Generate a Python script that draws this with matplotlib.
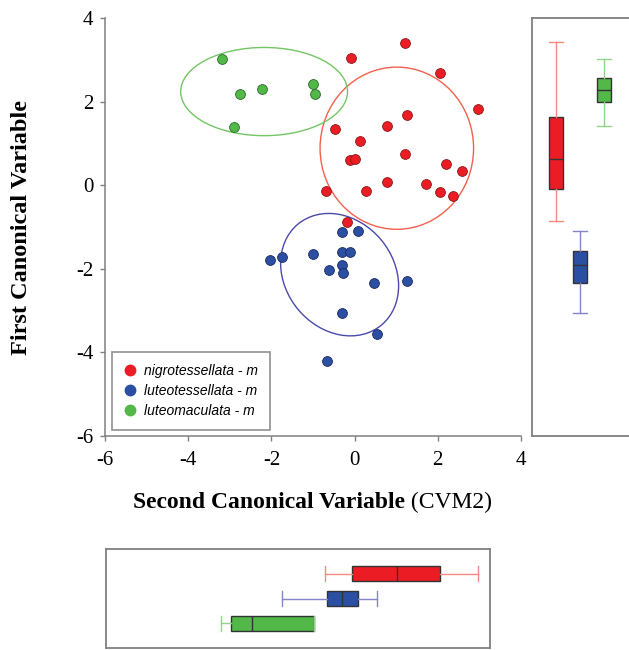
import matplotlib
matplotlib.use("Agg")
import matplotlib.pyplot as plt
from matplotlib.patches import Ellipse
from matplotlib.lines import Line2D

plt.rcParams["axes.unicode_minus"] = False

# ---------------- data ----------------
red_x = [1.21, -0.08, 2.05, 2.96, 1.27, 0.78, -0.46, 0.14, -0.10, 0.01, 1.22, 2.20,
         2.57, 0.79, 1.72, -0.69, 0.27, 2.06, 2.36, -0.19]
red_y = [3.40, 3.05, 2.69, 1.83, 1.69, 1.42, 1.34, 1.05, 0.60, 0.62, 0.74, 0.50,
         0.35, 0.08, 0.03, -0.14, -0.15, -0.16, -0.27, -0.88]
blue_x = [-0.30, 0.07, -2.03, -1.745, -1.01, -0.30, -0.11, -0.30, -0.61, -0.29,
          0.47, 1.265, -0.30, 0.53, -0.66]
blue_y = [-1.13, -1.09, -1.78, -1.72, -1.65, -1.60, -1.60, -1.91, -2.03, -2.11,
          -2.33, -2.28, -3.05, -3.56, -4.21]
green_x = [-3.19, -2.755, -2.22, -0.99, -0.95, -2.90]
green_y = [3.01, 2.17, 2.31, 2.41, 2.18, 1.39]

labels = ["nigrotessellata - m", "luteotessellata - m", "luteomaculata - m"]

# ellipses: center x, center y, width, height, angle
ell_red = (1.015, 0.885, 3.69, 3.88, 0)
ell_blue = (-0.36, -2.14, 3.14, 2.60, -50)
ell_green = (-2.175, 2.24, 4.01, 2.11, 0)

# box summaries (whislo, q1, med, q3, whishi)
box_first = {  # first canonical variable (right panel)
    "red": (-0.86, -0.10, 0.62, 1.63, 3.42),
    "blue": (-3.06, -2.34, -1.91, -1.58, -1.10),
    "green": (1.41, 1.99, 2.27, 2.56, 3.01),
}
box_second = {  # second canonical variable (bottom panel)
    "red": (-0.70, -0.06, 1.01, 2.05, 2.97),
    "blue": (-1.74, -0.66, -0.30, 0.09, 0.53),
    "green": (-3.21, -2.97, -2.47, -0.98, -0.98),
}

xticks = [-6, -4, -2, 0, 2, 4]
yticks = [-6, -4, -2, 0, 2, 4]

# ---------------- style ----------------
fill = {"red": "#EC1C24", "blue": "#2B4FA3", "green": "#52B848"}
edge = {"red": "#8A1A1A", "blue": "#1A2A60", "green": "#2A6A28"}
ellc = {"red": "#F2604E", "blue": "#4A4AAA", "green": "#72C664"}
whc = {"red": "#F58A82", "blue": "#8385C8", "green": "#94D38C"}
spine_c = "#808080"
serif = ["Liberation Serif", "DejaVu Serif"]
sans = ["Liberation Sans", "DejaVu Sans"]

W, H = 629, 650
fig = plt.figure(figsize=(W / 100, H / 100), dpi=100)


def ax_px(l, t, r, b):
    return fig.add_axes([l / W, 1 - b / H, (r - l) / W, (b - t) / H])


main = ax_px(105, 18, 521, 436)
main.set_xlim(-6, 4)
main.set_ylim(-6, 4)
for s in ["top", "right"]:
    main.spines[s].set_visible(False)
for s in ["left", "bottom"]:
    main.spines[s].set_color(spine_c)
    main.spines[s].set_linewidth(1.1)
main.set_xticks(xticks)
main.set_yticks(yticks)
main.tick_params(length=3.5, width=1.0, color=spine_c, labelsize=15, direction="out")
main.tick_params(axis="y", pad=5)
main.tick_params(axis="x", pad=7)
for lab in main.get_xticklabels() + main.get_yticklabels():
    lab.set_family(serif)

for key, xs, ys in [("red", red_x, red_y), ("blue", blue_x, blue_y), ("green", green_x, green_y)]:
    main.scatter(xs, ys, s=50, c=fill[key], edgecolors=edge[key], linewidths=0.6, zorder=3)

for key, e in [("red", ell_red), ("blue", ell_blue), ("green", ell_green)]:
    main.add_patch(Ellipse((e[0], e[1]), e[2], e[3], angle=e[4], fill=False,
                           edgecolor=ellc[key], linewidth=1.0, zorder=2))

handles = [Line2D([], [], marker="o", ls="", markersize=7.5, markerfacecolor=fill[k],
                  markeredgecolor=fill[k]) for k in ["red", "blue", "green"]]
leg = main.legend(handles, labels, loc="lower left", bbox_to_anchor=(0.016, 0.014),
                  borderaxespad=0, frameon=True, fancybox=False, handletextpad=0.5,
                  labelspacing=0.45, borderpad=0.85, handlelength=1.0,
                  prop={"family": sans, "style": "italic", "size": 10})
leg.get_frame().set_edgecolor(spine_c)
leg.get_frame().set_linewidth(1.3)

# labels
yl = fig.text(22 / W, 1 - 227.5 / H, "First Canonical Variable", rotation=90, ha="center",
              va="center", family=serif, weight="bold", fontsize=17.5)
t1 = fig.text(133 / W, 1 - 508 / H, "Second Canonical Variable", ha="left", va="baseline",
              family=serif, weight="bold", fontsize=17)
t2 = fig.text(0, 0, " (CVM2)", family=serif, fontsize=17, ha="left", va="baseline")
t2.set_transform(matplotlib.transforms.IdentityTransform())
fig.canvas.draw()
bb = t1.get_window_extent()
t2.set_position((bb.x1, (1 - 508 / H) * H))


def style_box_ax(ax):
    for s in ax.spines.values():
        s.set_color(spine_c)
        s.set_linewidth(1.3)
    ax.set_xticks([])
    ax.set_yticks([])


def draw_boxes(ax, data, positions, vert, width):
    for key, pos in zip(["red", "blue", "green"], positions):
        lo, q1, med, q3, hi = data[key]
        st = [{"whislo": lo, "q1": q1, "med": med, "q3": q3, "whishi": hi, "fliers": []}]
        ax.bxp(st, positions=[pos], widths=width, vert=vert, patch_artist=True,
               showfliers=False, capwidths=width,
               boxprops=dict(facecolor=fill[key], edgecolor="#333333", linewidth=1.0),
               medianprops=dict(color="#333333", linewidth=1.0),
               whiskerprops=dict(color=whc[key], linewidth=1.0),
               capprops=dict(color=whc[key], linewidth=1.0))


# right panel (first canonical variable)
right = ax_px(532, 18, 640, 436)
right.set_ylim(-6, 4)
right.set_xlim(0, 4.5)
draw_boxes(right, box_first, [1, 2, 3], True, 0.62)
style_box_ax(right)

# bottom panel (second canonical variable)
bot = ax_px(106, 549, 490, 648)
bot.set_xlim(-6 + 1 * 10 / 416, -6 + 385 * 10 / 416)
bot.set_ylim(0, 4)
draw_boxes(bot, box_second, [3, 2, 1], False, 0.6)
style_box_ax(bot)

fig.savefig("out.png", dpi=100)
